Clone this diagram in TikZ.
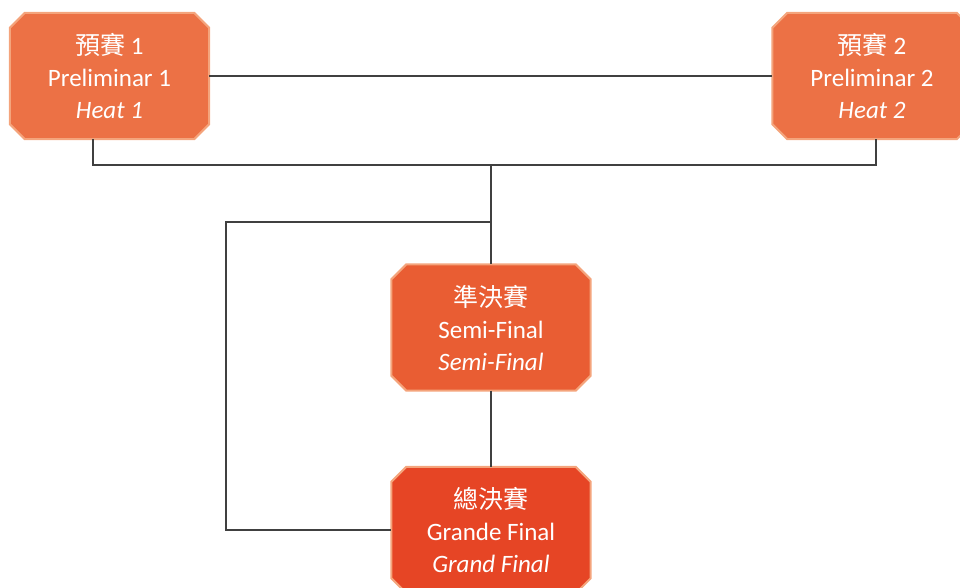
\documentclass[tikz,border=0pt]{standalone}
\usepackage{fontspec}
\setmainfont{Carlito}
\newfontfamily\cjk{Noto Sans CJK TC}
\usetikzlibrary{backgrounds}
\definecolor{heatfill}{HTML}{EC7145}
\definecolor{semifill}{HTML}{E95D33}
\definecolor{grandfill}{HTML}{E64525}
\definecolor{edgecol}{HTML}{F4A47C}
\definecolor{linecol}{HTML}{404040}
\tikzset{
  stagebox/.style={rectangle, minimum width=199pt, minimum height=126pt, inner sep=0pt,
    text=white, align=center, font=\fontsize{25}{32}\selectfont},
  octo/.style={draw=edgecol, line width=2pt},
  conn/.style={draw=linecol, line width=2.5pt}
}
\newcommand\octagonbox[2]{%
  \path[octo, fill=#2]
    ([xshift=15pt]#1.north west) -- ([xshift=-15pt]#1.north east)
    -- ([yshift=-15pt]#1.north east) -- ([yshift=15pt]#1.south east)
    -- ([xshift=-15pt]#1.south east) -- ([xshift=15pt]#1.south west)
    -- ([yshift=15pt]#1.south west) -- ([yshift=-15pt]#1.north west) -- cycle;}
\begin{document}
\begin{tikzpicture}[x=1pt,y=-1pt]
\useasboundingbox (0,0) rectangle (960,588);
\clip (0,0) rectangle (960,588);
\node[stagebox] (h1) at (109.5,76) {{\cjk 預賽} 1\\Preliminar 1\\\textit{Heat 1}};
\node[stagebox] (h2) at (872,76) {{\cjk 預賽} 2\\Preliminar 2\\\textit{Heat 2}};
\node[stagebox] (semi) at (491,327.5) {{\cjk 準決賽}\\Semi-Final\\\textit{Semi-Final}};
\node[stagebox] (grand) at (491,530) {{\cjk 總決賽}\\Grande Final\\\textit{Grand Final}};
\begin{scope}[on background layer]
\octagonbox{h1}{heatfill}
\octagonbox{h2}{heatfill}
\octagonbox{semi}{semifill}
\octagonbox{grand}{grandfill}
\end{scope}
\coordinate (J) at (491,165);
\coordinate (K) at (491,222);
\coordinate (L) at (226,222);
\path[conn] (h1.east) -- (h2.west);
\path[conn] ([xshift=-16.5pt]h1.south) |- (J);
\path[conn] ([xshift=4pt]h2.south) |- (J);
\path[conn] (J) -- (semi.north);
\path[conn] (K) -- (L) |- (grand.west);
\path[conn] (semi.south) -- (grand.north);
\end{tikzpicture}
\end{document}
